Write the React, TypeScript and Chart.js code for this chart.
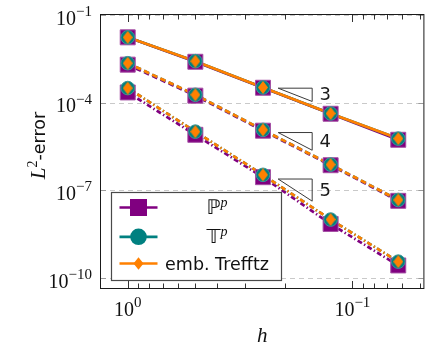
import React, { useEffect, useRef } from "react";
import { Chart, registerables } from "chart.js";

Chart.register(...registerables);

// ---------- data ----------
const hValues = [1, 0.5, 0.25, 0.125, 0.0625];

const pSolid = [1.72e-2, 2.51e-3, 3.24e-4, 4.17e-5, 5.37e-6];
const tSolid = [1.72e-2, 2.63e-3, 3.31e-4, 4.27e-5, 5.89e-6];
const eSolid = [1.72e-2, 2.63e-3, 3.31e-4, 4.27e-5, 5.89e-6];

const pDashed = [2.0e-3, 1.74e-4, 1.1e-5, 7.24e-7, 4.37e-8];
const tDashed = [2.24e-3, 1.86e-4, 1.17e-5, 7.59e-7, 4.68e-8];
const eDashed = [2.24e-3, 1.86e-4, 1.17e-5, 7.59e-7, 4.68e-8];

const pDashDot = [2.24e-4, 7.94e-6, 2.82e-7, 7.08e-9, 2.69e-10];
const tDashDot = [3.16e-4, 1.02e-5, 3.39e-7, 1.0e-8, 3.63e-10];
const eDashDot = [3.16e-4, 1.02e-5, 3.39e-7, 1.0e-8, 3.63e-10];

const xMin = 0.0483;
const xMax = 1.315;
const yMin = 4.55e-11;
const yMax = 0.1;

const xMajorTicks = [1, 0.1];
const xMajorExponents = ["0", "\u22121"];
const xMinorTicks = [0.9, 0.8, 0.7, 0.6, 0.5, 0.4, 0.3, 0.2, 0.09, 0.08, 0.07, 0.06, 0.05];
const yMajorTicks = [1e-1, 1e-4, 1e-7, 1e-10];
const yMajorExponents = ["\u22121", "\u22124", "\u22127", "\u221210"];

const slopeRates = [3, 4, 5];
const slopeLabels = ["3", "4", "5"];
const slopeTopValues = [3.13e-4, 9.5e-6, 2.44e-7];
const slopeHStart = 0.214;
const slopeHEnd = 0.151;

const legendSymbols = ["\u2119", "\uD835\uDD4B", "emb. Trefftz"];
const legendSuperscripts = ["p", "p", ""];

// ---------- styles ----------
const PURPLE = "rgb(128,0,128)";
const TEAL = "rgb(0,128,128)";
const ORANGE = "rgb(255,128,0)";
const DASHES: number[][] = [[], [5.5, 3.5], [5, 2.5, 1.4, 2.5]];
const SERIF = "'Liberation Serif', 'DejaVu Serif', serif";
const SANS = "'DejaVu Sans', sans-serif";

function makeDiamond(w: number, h: number, color: string) {
  const c = document.createElement("canvas");
  c.width = w;
  c.height = h;
  const g = c.getContext("2d")!;
  g.fillStyle = color;
  g.beginPath();
  g.moveTo(w / 2, 0);
  g.lineTo(w, h / 2);
  g.lineTo(w / 2, h);
  g.lineTo(0, h / 2);
  g.closePath();
  g.fill();
  return c;
}

type Run = { text: string; font: string; dy?: number };

function runsWidth(ctx: CanvasRenderingContext2D, runs: Run[]) {
  let w = 0;
  for (const r of runs) {
    ctx.font = r.font;
    w += ctx.measureText(r.text).width;
  }
  return w;
}

function drawRuns(ctx: CanvasRenderingContext2D, runs: Run[], x: number, y: number, align: "left" | "center" | "right") {
  const w = runsWidth(ctx, runs);
  let cx = align === "left" ? x : align === "center" ? x - w / 2 : x - w;
  ctx.textAlign = "left";
  ctx.textBaseline = "alphabetic";
  for (const r of runs) {
    ctx.font = r.font;
    ctx.fillText(r.text, cx, y + (r.dy || 0));
    cx += ctx.measureText(r.text).width;
  }
}

function pow10Runs(exp: string): Run[] {
  return [
    { text: "10", font: `20px ${SERIF}` },
    { text: exp, font: `15px ${SERIF}`, dy: -8.5 },
  ];
}

const decorPlugin = {
  id: "decor",
  beforeDatasetsDraw(chart: any) {
    const { ctx, chartArea: a, scales } = chart;
    const x = scales.x;
    const y = scales.y;
    ctx.save();
    ctx.strokeStyle = "#c9c9c9";
    ctx.lineWidth = 1;
    ctx.setLineDash([5, 4]);
    for (const v of yMajorTicks) {
      const py = Math.round(y.getPixelForValue(v)) + 0.5;
      ctx.beginPath();
      ctx.moveTo(a.left, py);
      ctx.lineTo(a.right, py);
      ctx.stroke();
    }
    ctx.setLineDash([]);
    ctx.strokeStyle = "#9a9a9a";
    for (const v of yMajorTicks) {
      const py = Math.round(y.getPixelForValue(v)) + 0.5;
      ctx.beginPath();
      ctx.moveTo(a.left, py);
      ctx.lineTo(a.left + 5, py);
      ctx.moveTo(a.right, py);
      ctx.lineTo(a.right - 5, py);
      ctx.stroke();
    }
    ctx.strokeStyle = "#333";
    const drawXTick = (v: number, len: number) => {
      const px = Math.round(x.getPixelForValue(v)) + 0.5;
      ctx.beginPath();
      ctx.moveTo(px, a.bottom);
      ctx.lineTo(px, a.bottom - len);
      ctx.moveTo(px, a.top);
      ctx.lineTo(px, a.top + len);
      ctx.stroke();
    };
    xMajorTicks.forEach((v) => drawXTick(v, 7));
    xMinorTicks.forEach((v) => drawXTick(v, 4.5));
    ctx.strokeStyle = "#1a1a1a";
    ctx.lineWidth = 1;
    ctx.strokeRect(a.left - 0.5, a.top - 0.5, a.right - a.left + 1, a.bottom - a.top + 1);
    ctx.restore();
  },
  afterDatasetsDraw(chart: any) {
    const { ctx, chartArea: a, scales } = chart;
    const x = scales.x;
    const y = scales.y;
    ctx.save();
    ctx.strokeStyle = "#3a3a3a";
    ctx.lineWidth = 1;
    ctx.fillStyle = "#1a1a1a";
    slopeRates.forEach((rate, i) => {
      const top = slopeTopValues[i];
      const bottom = top * Math.pow(slopeHEnd / slopeHStart, rate);
      const x0 = x.getPixelForValue(slopeHStart);
      const x1 = x.getPixelForValue(slopeHEnd);
      const y0 = y.getPixelForValue(top);
      const y1 = y.getPixelForValue(bottom);
      ctx.beginPath();
      ctx.moveTo(x0, y0);
      ctx.lineTo(x1, y0);
      ctx.lineTo(x1, y1);
      ctx.closePath();
      ctx.stroke();
      ctx.font = `18px ${SANS}`;
      ctx.textAlign = "center";
      ctx.textBaseline = "middle";
      ctx.fillText(slopeLabels[i], x1 + 13, (y0 + y1) / 2 + 1);
    });

    const lx = a.left + 10.5;
    const ly = a.top + 177.5;
    const lw = 170;
    const lh = 88;
    ctx.fillStyle = "#fff";
    ctx.fillRect(lx, ly, lw, lh);
    ctx.strokeStyle = "#4a4a4a";
    ctx.lineWidth = 1.2;
    ctx.strokeRect(lx, ly, lw, lh);
    const rowY = [ly + 15, ly + 44.3, ly + 71];
    const colors = [PURPLE, TEAL, ORANGE];
    const sx0 = lx + 8;
    const sx1 = lx + 46;
    const mx = (sx0 + sx1) / 2;
    rowY.forEach((ry, i) => {
      ctx.strokeStyle = colors[i];
      ctx.lineWidth = 2.7;
      ctx.beginPath();
      ctx.moveTo(sx0, ry);
      ctx.lineTo(sx1, ry);
      ctx.stroke();
      ctx.fillStyle = colors[i];
      if (i === 0) {
        ctx.fillRect(mx - 8.5, ry - 8.5, 17, 17);
      } else if (i === 1) {
        ctx.beginPath();
        ctx.arc(mx, ry, 8.3, 0, Math.PI * 2);
        ctx.fill();
      } else {
        ctx.beginPath();
        ctx.moveTo(mx, ry - 6.2);
        ctx.lineTo(mx + 5, ry);
        ctx.lineTo(mx, ry + 6.2);
        ctx.lineTo(mx - 5, ry);
        ctx.closePath();
        ctx.fill();
      }
      ctx.fillStyle = "#111";
      const runs: Run[] = [{ text: legendSymbols[i], font: i === 2 ? `17.5px ${SANS}` : `20px ${SANS}` }];
      if (legendSuperscripts[i]) runs.push({ text: legendSuperscripts[i], font: `italic 14px ${SERIF}`, dy: -7.5 });
      drawRuns(ctx, runs, lx + 105.5, ry + 6.5, "center");
    });
    ctx.restore();
  },
  afterDraw(chart: any) {
    const { ctx, chartArea: a, scales } = chart;
    const x = scales.x;
    const y = scales.y;
    ctx.save();
    ctx.fillStyle = "#111";
    yMajorTicks.forEach((v, i) => {
      const py = y.getPixelForValue(v);
      drawRuns(ctx, pow10Runs(yMajorExponents[i]), a.left - 9, py + 9.5, "right");
    });
    xMajorTicks.forEach((v, i) => {
      const px = x.getPixelForValue(v);
      drawRuns(ctx, pow10Runs(xMajorExponents[i]), px, a.bottom + 27.5, "center");
    });
    drawRuns(ctx, [{ text: "h", font: `italic 21px ${SERIF}` }], (a.left + a.right) / 2, a.bottom + 54, "center");
    ctx.translate(45, (a.top + a.bottom) / 2 - 6);
    ctx.rotate(-Math.PI / 2);
    drawRuns(
      ctx,
      [
        { text: "L", font: `italic 21px ${SERIF}` },
        { text: "2", font: `14px ${SERIF}`, dy: -8.5 },
        { text: "-error", font: `17.5px ${SANS}` },
      ],
      0,
      0,
      "center"
    );
    ctx.restore();
  },
};

export default function App() {
  const ref = useRef<HTMLCanvasElement>(null);
  useEffect(() => {
    document.body.style.margin = "0";
    const canvas = ref.current!;
    const pts = (ys: number[]) => hValues.map((h, i) => ({ x: h, y: ys[i] }));
    const diamond = makeDiamond(10, 13, ORANGE);
    const methods = [
      {
        color: PURPLE,
        series: [pSolid, pDashed, pDashDot],
        lineOrder: 6,
        pointOrder: 3,
        point: { pointStyle: "rect", pointRadius: 10.6, pointBackgroundColor: PURPLE, pointBorderColor: "rgb(165,80,165)", pointBorderWidth: 1 },
      },
      {
        color: TEAL,
        series: [tSolid, tDashed, tDashDot],
        lineOrder: 5,
        pointOrder: 2,
        point: { pointStyle: "circle", pointRadius: 6.8, pointBackgroundColor: TEAL, pointBorderColor: "rgb(60,150,150)", pointBorderWidth: 1 },
      },
      {
        color: ORANGE,
        series: [eSolid, eDashed, eDashDot],
        lineOrder: 4,
        pointOrder: 1,
        point: { pointStyle: diamond as any, pointRadius: 5, pointBackgroundColor: ORANGE, pointBorderWidth: 0 },
      },
    ];
    const datasets: any[] = [];
    methods.forEach((m) => {
      m.series.forEach((ys, k) => {
        datasets.push({
          data: pts(ys),
          borderColor: m.color,
          borderWidth: 2.7,
          borderDash: DASHES[k],
          pointRadius: 0,
          fill: false,
          tension: 0,
          order: m.lineOrder,
        });
        datasets.push({
          data: pts(ys),
          showLine: false,
          order: m.pointOrder,
          ...m.point,
        });
      });
    });
    const chart = new Chart(canvas, {
      type: "line",
      data: { datasets },
      options: {
        animation: false,
        responsive: false,
        devicePixelRatio: 1,
        layout: { padding: { left: 101, top: 15, right: 2, bottom: 57 } },
        plugins: { legend: { display: false }, tooltip: { enabled: false } },
        events: [],
        scales: {
          x: { type: "logarithmic", reverse: true, min: xMin, max: xMax, display: false },
          y: { type: "logarithmic", min: yMin, max: yMax, display: false },
        },
      },
      plugins: [decorPlugin],
    });
    return () => chart.destroy();
  }, []);
  return (
    <div style={{ width: 435, height: 345 }}>
      <canvas ref={ref} width={435} height={345} style={{ display: "block" }} />
    </div>
  );
}
